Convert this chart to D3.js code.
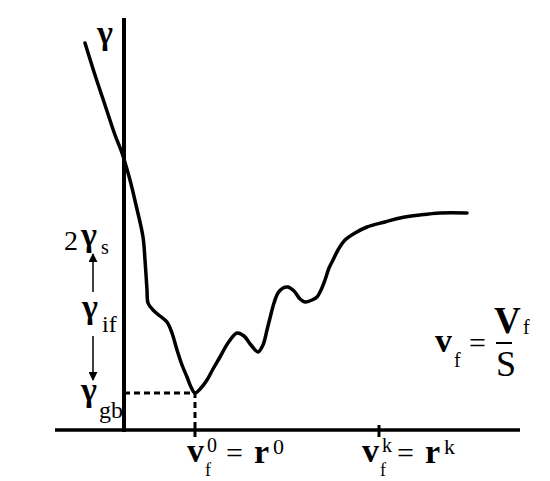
<!DOCTYPE html>
<html>
<head>
<meta charset="utf-8">
<script src="https://cdn.jsdelivr.net/npm/d3@7"></script>
<style>
  body { margin: 0; background: #fff; }
</style>
</head>
<body>
<div id="chart"></div>
<script>
// surface energy curve (arbitrary units)
const curveX = [-9.75, -7.25, -4.75, -2.25, -0.5, 1.5, 3, 4.75, 5.25, 5.75, 6, 7.25, 9, 10.75,
  12, 13.25, 14.5, 15.75, 16.75, 17.75, 19.25, 20.75, 22.25, 24, 26, 28.25, 30, 31.75, 33.5,
  34.75, 35.75, 36.5, 37.5, 38.5, 39.75, 41, 42.5, 44, 45.25, 47, 48.25, 49.25, 50.25, 51.25,
  52.25, 53.5, 55.25, 57.75, 60.75, 65.25, 69, 74, 79, 85.75]
const curveY = [96.75, 88.75, 81.25, 73.75, 69.25, 62.5, 56.25, 48.25, 42.5, 35, 31.75, 30, 28.5, 27,
  24.25, 20, 16.25, 13.25, 10.75, 9.25, 10.5, 12.5, 15.25, 18.25, 21.75, 24.25, 23.5, 21.25, 19.5,
  21.25, 25, 28, 31.75, 34.25, 35.5, 35.75, 34.75, 32.75, 32, 32.5, 33.25, 35, 37.5, 40.5,
  42.5, 45, 47.5, 49.25, 50.75, 52, 53, 53.75, 54.25, 54.25]

// marked positions on the axes
const xTicks = [17.75, 63.75]
const xTickNames = ['0', 'k']
const gammaLevels = [46, 30, 9.25]   // 2γs, γif, γgb

const width = 550
const height = 481
const serif = '"Liberation Serif", "Times New Roman", serif'

const x = d3.scaleLinear().domain([0, 100]).range([124, 524])
const y = d3.scaleLinear().domain([0, 100]).range([430, 30])

const svg = d3.select('#chart').append('svg')
  .attr('width', width)
  .attr('height', height)

svg.append('defs').append('marker')
  .attr('id', 'arrow')
  .attr('viewBox', '0 0 10 10')
  .attr('refX', 9)
  .attr('refY', 5)
  .attr('markerWidth', 9)
  .attr('markerHeight', 9)
  .attr('markerUnits', 'userSpaceOnUse')
  .attr('orient', 'auto')
  .append('path')
  .attr('d', 'M0,0 L10,5 L0,10 Z')
  .attr('fill', '#000')

// axes
svg.append('line')
  .attr('x1', x(0)).attr('x2', x(0))
  .attr('y1', y(103)).attr('y2', y(-0.5))
  .attr('stroke', '#000').attr('stroke-width', 4)
svg.append('line')
  .attr('x1', x(-17.25)).attr('x2', x(99))
  .attr('y1', y(0)).attr('y2', y(0))
  .attr('stroke', '#000').attr('stroke-width', 3.5)

// dashed guide to the minimum
const minI = d3.minIndex(curveY)
svg.append('path')
  .attr('d', `M${x(0)},${y(curveY[minI])} H${x(curveX[minI])} V${y(0)}`)
  .attr('fill', 'none')
  .attr('stroke', '#000')
  .attr('stroke-width', 3)
  .attr('stroke-dasharray', '6,4')

// ticks
svg.selectAll('.tick')
  .data(xTicks)
  .join('line')
  .attr('class', 'tick')
  .attr('x1', (d) => x(d)).attr('x2', (d) => x(d))
  .attr('y1', (d, i) => y(0) - (i === 0 ? 2 : 5))
  .attr('y2', y(0) + 7)
  .attr('stroke', '#000')
  .attr('stroke-width', 3)

// the curve
const line = d3.line()
  .x((d, i) => x(curveX[i]))
  .y((d) => y(d))
  .curve(d3.curveCatmullRom.alpha(0.5))

svg.append('path')
  .datum(curveY)
  .attr('d', line)
  .attr('fill', 'none')
  .attr('stroke', '#000')
  .attr('stroke-width', 3.5)
  .attr('stroke-linejoin', 'round')
  .attr('stroke-linecap', 'round')

// little helper for the formula pieces
function put(px, py, str, size, bold) {
  svg.append('text')
    .attr('x', px)
    .attr('y', py)
    .attr('font-family', serif)
    .attr('font-size', size)
    .attr('font-weight', bold ? 'bold' : 'normal')
    .attr('fill', '#000')
    .text(str)
}

// gamma at the top of the axis
put(x(0) - 27, 44, 'γ', 34, true)

// left side labels
const gy = gammaLevels.map(y)
put(64, gy[0] + 4, '2', 28, false)
put(81, gy[0] + 0, 'γ', 34, true)
put(101, gy[0] + 8, 's', 20, false)

put(82, gy[1] + 8, 'γ', 34, true)
put(102, gy[1] + 22, 'if', 24, false)

put(81, gy[2] + 8, 'γ', 34, true)
put(99, gy[2] + 25, 'gb', 24, false)

svg.append('line')
  .attr('x1', 93).attr('x2', 93)
  .attr('y1', gy[1] - 18).attr('y2', gy[0] + 8)
  .attr('stroke', '#000').attr('stroke-width', 1.5)
  .attr('marker-end', 'url(#arrow)')
svg.append('line')
  .attr('x1', 93).attr('x2', 93)
  .attr('y1', gy[1] + 26).attr('y2', gy[2] - 13)
  .attr('stroke', '#000').attr('stroke-width', 1.5)
  .attr('marker-end', 'url(#arrow)')

// tick labels  v_f^n = r^n
xTicks.forEach((t, i) => {
  const cx = x(t) + (i === 0 ? 0 : -9)
  const n = xTickNames[i]
  const sh = i === 0 ? 0 : -4
  put(cx - 8, 462, 'v', 34, true)
  put(cx + 10, 476, 'f', 18, false)
  put(cx + 12, 452, n, 20, false)
  put(cx + 31 + sh, 463, '=', 30, false)
  put(cx + 59 + sh, 463, 'r', 34, true)
  put(cx + 78 + sh, 454, n, 22, false)
})

// v_f = V_f / S
put(435, 352, 'v', 34, true)
put(454, 367, 'f', 20, false)
put(469, 353, '=', 30, false)
put(494, 333, 'V', 37, true)
put(523, 334, 'f', 20, false)
svg.append('line')
  .attr('x1', 496).attr('x2', 512)
  .attr('y1', 343).attr('y2', 343)
  .attr('stroke', '#000').attr('stroke-width', 2)
put(496, 376, 'S', 36, false)
</script>
</body>
</html>
